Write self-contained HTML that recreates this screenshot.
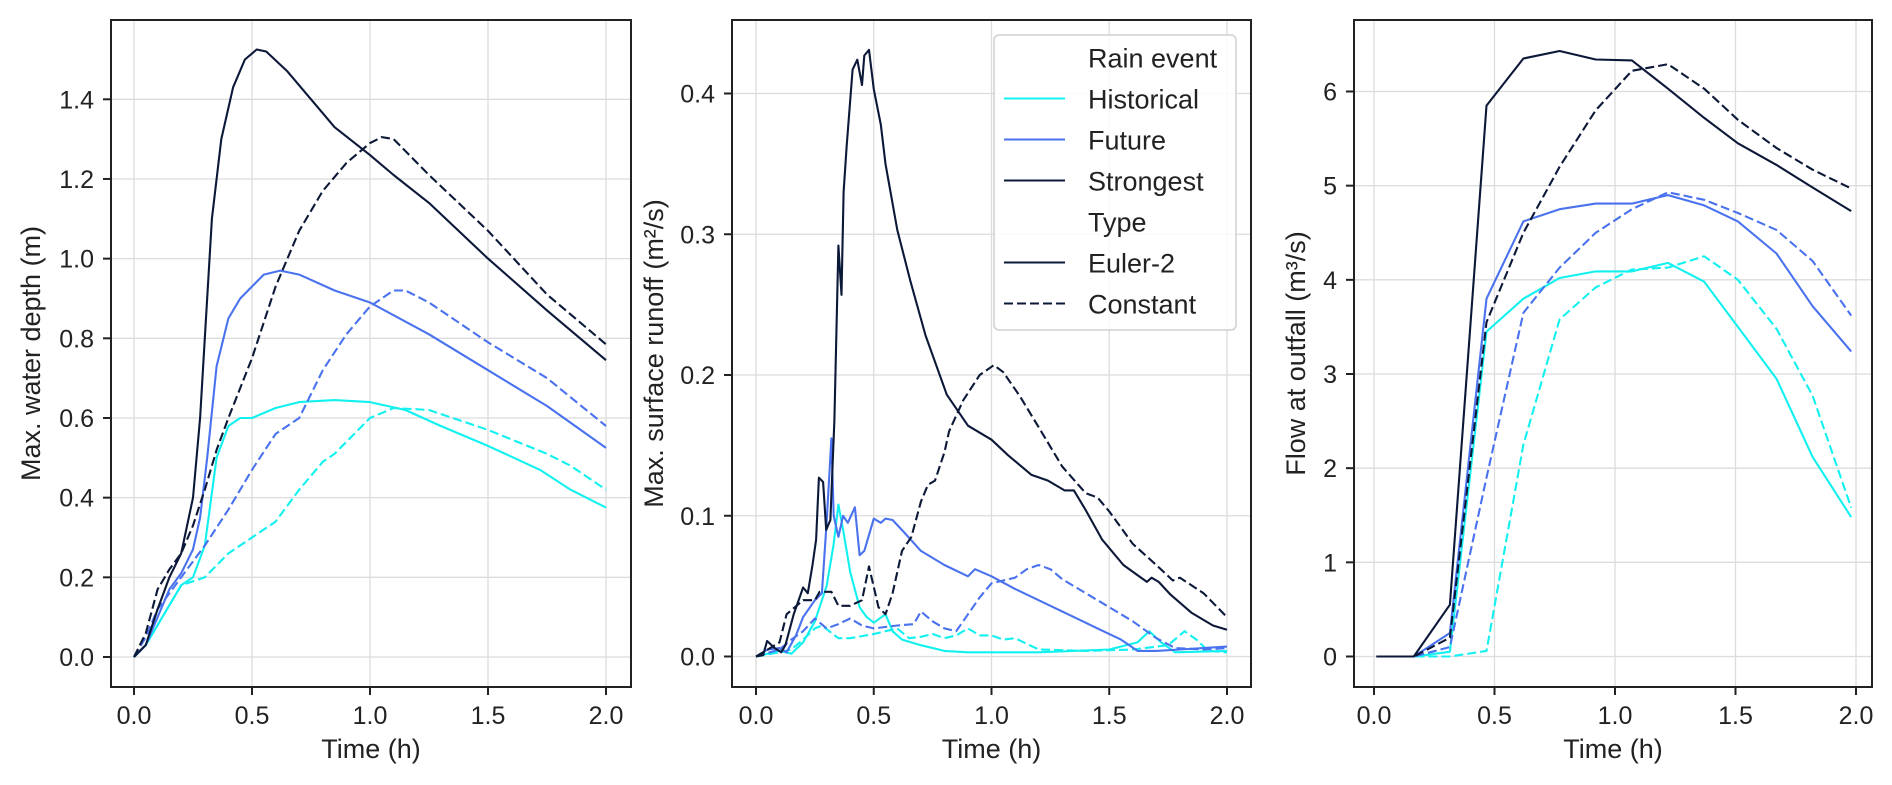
<!DOCTYPE html>
<html><head><meta charset="utf-8"><style>
html,body{margin:0;padding:0;background:#fff;}
svg{display:block;font-family:"Liberation Sans",Arial,sans-serif;}
</style></head><body>
<svg id="chart" width="1892" height="785" viewBox="0 0 1892 785" xmlns="http://www.w3.org/2000/svg"></svg>
<script>
// ---------- data ----------
const xTicks=[0,0.5,1.0,1.5,2.0];
const xTickLabels=["0.0","0.5","1.0","1.5","2.0"];
const p1YTicks=[0,0.2,0.4,0.6,0.8,1.0,1.2,1.4];
const p1YTickLabels=["0.0","0.2","0.4","0.6","0.8","1.0","1.2","1.4"];
const p2YTicks=[0,0.1,0.2,0.3,0.4];
const p2YTickLabels=["0.0","0.1","0.2","0.3","0.4"];
const p3YTicks=[0,1,2,3,4,5,6];
const p3YTickLabels=["0","1","2","3","4","5","6"];
const seriesNames=["Historical","Future","Strongest"];
const typeNames=["Euler-2","Constant"];

// Panel 1 water depth: [t, value]
const p1StrongE=[[0,0],[0.05,0.03],[0.1,0.12],[0.15,0.2],[0.2,0.26],[0.25,0.4],[0.28,0.6],[0.3,0.8],[0.33,1.1],[0.37,1.3],[0.42,1.43],[0.47,1.5],[0.52,1.525],[0.56,1.52],[0.65,1.47],[0.75,1.4],[0.85,1.33],[1.0,1.26],[1.1,1.21],[1.25,1.14],[1.5,1.0],[1.75,0.87],[2.0,0.745]];
const p1StrongC=[[0,0],[0.05,0.06],[0.1,0.17],[0.15,0.22],[0.2,0.26],[0.25,0.33],[0.3,0.42],[0.35,0.52],[0.4,0.6],[0.5,0.75],[0.6,0.93],[0.7,1.07],[0.8,1.17],[0.9,1.24],[1.0,1.29],[1.05,1.305],[1.1,1.3],[1.25,1.21],[1.5,1.07],[1.75,0.91],[2.0,0.785]];
const p1FutE=[[0,0],[0.05,0.03],[0.1,0.1],[0.15,0.17],[0.2,0.21],[0.25,0.27],[0.28,0.35],[0.31,0.5],[0.35,0.73],[0.4,0.85],[0.45,0.9],[0.5,0.93],[0.55,0.96],[0.62,0.97],[0.7,0.96],[0.85,0.92],[1.0,0.89],[1.25,0.81],[1.5,0.72],[1.75,0.63],[2.0,0.525]];
const p1FutC=[[0,0],[0.05,0.05],[0.1,0.12],[0.2,0.2],[0.3,0.28],[0.4,0.37],[0.5,0.47],[0.6,0.56],[0.7,0.6],[0.8,0.72],[0.9,0.81],[1.0,0.88],[1.1,0.92],[1.15,0.92],[1.25,0.89],[1.5,0.79],[1.75,0.7],[2.0,0.58]];
const p1HistE=[[0,0],[0.05,0.03],[0.1,0.08],[0.15,0.13],[0.2,0.18],[0.25,0.2],[0.3,0.28],[0.35,0.5],[0.4,0.58],[0.45,0.6],[0.5,0.6],[0.6,0.625],[0.7,0.64],[0.85,0.645],[1.0,0.64],[1.15,0.62],[1.3,0.58],[1.5,0.53],[1.72,0.47],[1.85,0.42],[2.0,0.375]];
const p1HistC=[[0,0],[0.05,0.03],[0.1,0.08],[0.15,0.13],[0.2,0.18],[0.3,0.2],[0.4,0.26],[0.5,0.3],[0.6,0.34],[0.7,0.42],[0.8,0.49],[0.85,0.51],[0.95,0.57],[1.0,0.6],[1.1,0.625],[1.25,0.62],[1.5,0.57],[1.75,0.51],[1.85,0.48],[2.0,0.42]];

// Panel 2 surface runoff
const p2StrongE=[[0,0],[0.03,0.001],[0.047,0.011],[0.08,0.006],[0.107,0.003],[0.125,0.008],[0.16,0.03],[0.2,0.049],[0.22,0.045],[0.24,0.065],[0.255,0.083],[0.267,0.127],[0.285,0.124],[0.298,0.09],[0.316,0.097],[0.333,0.168],[0.35,0.292],[0.363,0.257],[0.372,0.33],[0.385,0.363],[0.41,0.417],[0.43,0.424],[0.45,0.406],[0.46,0.427],[0.48,0.431],[0.5,0.403],[0.53,0.378],[0.55,0.35],[0.6,0.303],[0.655,0.267],[0.72,0.228],[0.81,0.186],[0.9,0.164],[1.0,0.154],[1.07,0.143],[1.17,0.129],[1.24,0.125],[1.31,0.118],[1.35,0.118],[1.4,0.104],[1.47,0.083],[1.56,0.065],[1.66,0.053],[1.68,0.056],[1.71,0.053],[1.76,0.044],[1.85,0.031],[1.94,0.022],[2.0,0.019]];
const p2StrongC=[[0,0],[0.05,0.005],[0.1,0.01],[0.13,0.03],[0.2,0.04],[0.25,0.04],[0.27,0.046],[0.32,0.046],[0.35,0.036],[0.4,0.036],[0.45,0.04],[0.48,0.064],[0.52,0.035],[0.55,0.03],[0.58,0.045],[0.62,0.075],[0.66,0.085],[0.7,0.11],[0.73,0.122],[0.76,0.125],[0.8,0.145],[0.82,0.16],[0.88,0.182],[0.95,0.2],[1.01,0.207],[1.05,0.202],[1.12,0.185],[1.2,0.163],[1.3,0.135],[1.4,0.116],[1.45,0.113],[1.5,0.103],[1.6,0.08],[1.7,0.065],[1.77,0.054],[1.8,0.056],[1.9,0.045],[2.0,0.028]];
const p2FutE=[[0,0],[0.05,0.005],[0.1,0.006],[0.13,0.003],[0.17,0.015],[0.2,0.028],[0.25,0.04],[0.28,0.045],[0.3,0.095],[0.32,0.155],[0.33,0.1],[0.35,0.085],[0.37,0.1],[0.39,0.095],[0.42,0.106],[0.44,0.072],[0.46,0.075],[0.5,0.098],[0.53,0.095],[0.55,0.098],[0.58,0.097],[0.63,0.088],[0.7,0.075],[0.8,0.065],[0.9,0.057],[0.93,0.062],[1.0,0.057],[1.1,0.048],[1.2,0.04],[1.35,0.028],[1.45,0.02],[1.55,0.012],[1.62,0.004],[1.7,0.004],[1.8,0.005],[2.0,0.007]];
const p2FutC=[[0,0],[0.1,0.005],[0.15,0.012],[0.2,0.018],[0.25,0.027],[0.3,0.02],[0.35,0.023],[0.4,0.027],[0.45,0.022],[0.5,0.02],[0.6,0.022],[0.67,0.023],[0.7,0.032],[0.75,0.025],[0.8,0.02],[0.85,0.018],[0.9,0.03],[0.95,0.042],[1.0,0.052],[1.1,0.056],[1.15,0.062],[1.2,0.065],[1.25,0.062],[1.3,0.055],[1.4,0.045],[1.5,0.035],[1.6,0.025],[1.7,0.013],[1.78,0.006],[1.9,0.005],[2.0,0.006]];
const p2HistE=[[0,0],[0.1,0.004],[0.15,0.002],[0.2,0.01],[0.25,0.025],[0.3,0.05],[0.33,0.08],[0.35,0.108],[0.37,0.09],[0.4,0.06],[0.44,0.035],[0.47,0.028],[0.5,0.024],[0.55,0.03],[0.58,0.018],[0.62,0.012],[0.7,0.008],[0.8,0.004],[0.9,0.003],[1.2,0.003],[1.5,0.005],[1.62,0.01],[1.67,0.018],[1.72,0.01],[1.78,0.003],[2.0,0.004]];
const p2HistC=[[0,0],[0.1,0.003],[0.15,0.005],[0.2,0.012],[0.25,0.02],[0.28,0.022],[0.35,0.013],[0.4,0.013],[0.5,0.016],[0.6,0.02],[0.65,0.013],[0.7,0.014],[0.75,0.016],[0.8,0.013],[0.85,0.015],[0.9,0.02],[0.95,0.015],[1.0,0.015],[1.05,0.012],[1.1,0.013],[1.2,0.005],[1.4,0.004],[1.6,0.005],[1.75,0.008],[1.82,0.018],[1.87,0.012],[1.92,0.004],[2.0,0.003]];

// Panel 3 outfall flow
const p3Times=[0.01,0.165,0.315,0.467,0.62,0.77,0.92,1.07,1.22,1.37,1.51,1.67,1.82,1.98];
const p3StrongE=[0,0,0.55,5.85,6.35,6.43,6.34,6.33,6.03,5.72,5.45,5.22,4.98,4.73];
const p3StrongC=[0,0,0.2,3.55,4.5,5.2,5.8,6.22,6.29,6.03,5.7,5.4,5.17,4.97];
const p3FutE=[0,0,0.25,3.8,4.62,4.75,4.81,4.81,4.9,4.79,4.62,4.28,3.72,3.24];
const p3FutC=[0,0,0.1,1.9,3.65,4.13,4.5,4.75,4.93,4.85,4.71,4.53,4.2,3.62];
const p3HistE=[0,0,0.05,3.45,3.8,4.02,4.09,4.09,4.18,3.98,3.5,2.95,2.12,1.48];
const p3HistC=[0,0,0,0.06,2.25,3.58,3.92,4.11,4.13,4.25,4.0,3.48,2.77,1.58];

// ---------- drawing ----------
const NS="http://www.w3.org/2000/svg";
const svg=document.getElementById('chart');
const COL={Historical:"#12f0f0",Future:"#4a72ee",Strongest:"#0c1838"};
function mk(tag,attrs,parent){const e=document.createElementNS(NS,tag);for(const k in attrs)e.setAttribute(k,attrs[k]);(parent||svg).appendChild(e);return e;}

const panels=[
 {id:"depth",L:111,R:631,T:20,B:687,x0:134,x2:606,y0:657,yUnit:(657-99.3)/1.4,yt:p1YTicks,ytl:p1YTickLabels,title:"Max. water depth (m)",tx:31,
  series:[["Historical","Euler-2",p1HistE],["Historical","Constant",p1HistC],["Future","Euler-2",p1FutE],["Future","Constant",p1FutC],["Strongest","Euler-2",p1StrongE],["Strongest","Constant",p1StrongC]]},
 {id:"runoff",L:732,R:1251,T:20,B:687,x0:756,x2:1227,y0:656.5,yUnit:(656.5-93.5)/0.4,yt:p2YTicks,ytl:p2YTickLabels,title:"Max. surface runoff (m²/s)",tx:654,
  series:[["Historical","Euler-2",p2HistE],["Historical","Constant",p2HistC],["Future","Euler-2",p2FutE],["Future","Constant",p2FutC],["Strongest","Euler-2",p2StrongE],["Strongest","Constant",p2StrongC]]},
 {id:"outfall",L:1354,R:1872,T:20,B:687,x0:1374,x2:1856,y0:656.5,yUnit:(656.5-91.5)/6,yt:p3YTicks,ytl:p3YTickLabels,title:"Flow at outfall (m³/s)",tx:1296,
  series:[["Historical","Euler-2",p3Times.map((t,i)=>[t,p3HistE[i]])],["Historical","Constant",p3Times.map((t,i)=>[t,p3HistC[i]])],["Future","Euler-2",p3Times.map((t,i)=>[t,p3FutE[i]])],["Future","Constant",p3Times.map((t,i)=>[t,p3FutC[i]])],["Strongest","Euler-2",p3Times.map((t,i)=>[t,p3StrongE[i]])],["Strongest","Constant",p3Times.map((t,i)=>[t,p3StrongC[i]])]]}
];

panels.forEach(p=>{
  const g=mk('g',{});
  
  
  const xs=v=>p.x0+(p.x2-p.x0)*v/2;
  const ys=v=>p.y0-v*p.yUnit;
  // grid
  xTicks.forEach((t,i)=>{
    const l=mk('line',{x1:xs(t),x2:xs(t),y1:p.T,y2:p.B,stroke:"#dcdcdc","stroke-width":1.3},g);
    
    
  });
  p.yt.forEach(t=>{
    const l=mk('line',{x1:p.L,x2:p.R,y1:ys(t),y2:ys(t),stroke:"#dcdcdc","stroke-width":1.3},g);
    
    
  });
  // series
  p.series.forEach(s=>{
    const pts=s[2].map(d=>xs(d[0]).toFixed(1)+","+ys(d[1]).toFixed(1)).join(" ");
    const a={points:pts,fill:"none",stroke:COL[s[0]],"stroke-width":2.1,"stroke-linejoin":"round"};
    if(s[1]==="Constant")a["stroke-dasharray"]="9,4";
    const pl=mk('polyline',a,g);
    
    
  });
  // frame
  const fr=mk('rect',{x:p.L,y:p.T,width:p.R-p.L,height:p.B-p.T,fill:"none",stroke:"#222","stroke-width":2},g);
  
  
  // ticks
  xTicks.forEach((t,i)=>{
    mk('line',{x1:xs(t),x2:xs(t),y1:p.B,y2:p.B+8,stroke:"#222","stroke-width":2},g);
    const tx=mk('text',{x:xs(t),y:724,"font-size":25,"text-anchor":"middle",fill:"#222"},g);
    tx.textContent=xTickLabels[i];
    
    
  });
  p.yt.forEach((t,i)=>{
    mk('line',{x1:p.L-8,x2:p.L,y1:ys(t),y2:ys(t),stroke:"#222","stroke-width":2},g);
    const tx=mk('text',{x:p.L-17,y:ys(t)+9,"font-size":25,"text-anchor":"end",fill:"#222"},g);
    tx.textContent=p.ytl[i];
    
    
  });
  const xt=mk('text',{x:(p.L+p.R)/2,y:758,"font-size":27,"text-anchor":"middle",fill:"#222"},g);
  xt.textContent="Time (h)";
  
  
  const yt=mk('text',{x:0,y:0,"font-size":27,"text-anchor":"middle",fill:"#222",transform:`translate(${p.tx+9},${(p.T+p.B)/2}) rotate(-90)`},g);
  yt.textContent=p.title;
  
  
});

// legend
const lg=mk('g',{});


mk('rect',{x:994,y:35,width:242,height:295,rx:5,fill:"#fff","fill-opacity":0.85,stroke:"#d0d0d0","stroke-width":1.5},lg);
const legendRows=[["Rain event",null,null],["Historical","Historical","Euler-2"],["Future","Future","Euler-2"],["Strongest","Strongest","Euler-2"],["Type",null,null],["Euler-2","Strongest","Euler-2"],["Constant","Strongest","Constant"]];
legendRows.forEach((r,i)=>{
  const y=57.5+i*41;
  if(r[1]){
    const a={x1:1004,x2:1065,y1:y,y2:y,stroke:COL[r[1]],"stroke-width":2.1};
    if(r[2]==="Constant")a["stroke-dasharray"]="9,4";
    const l=mk('line',a,lg);
    
    
  }
  const t=mk('text',{x:1088,y:y+10,"font-size":27,fill:"#222"},lg);
  t.textContent=r[0];
  
  
});
</script>
</body></html>
